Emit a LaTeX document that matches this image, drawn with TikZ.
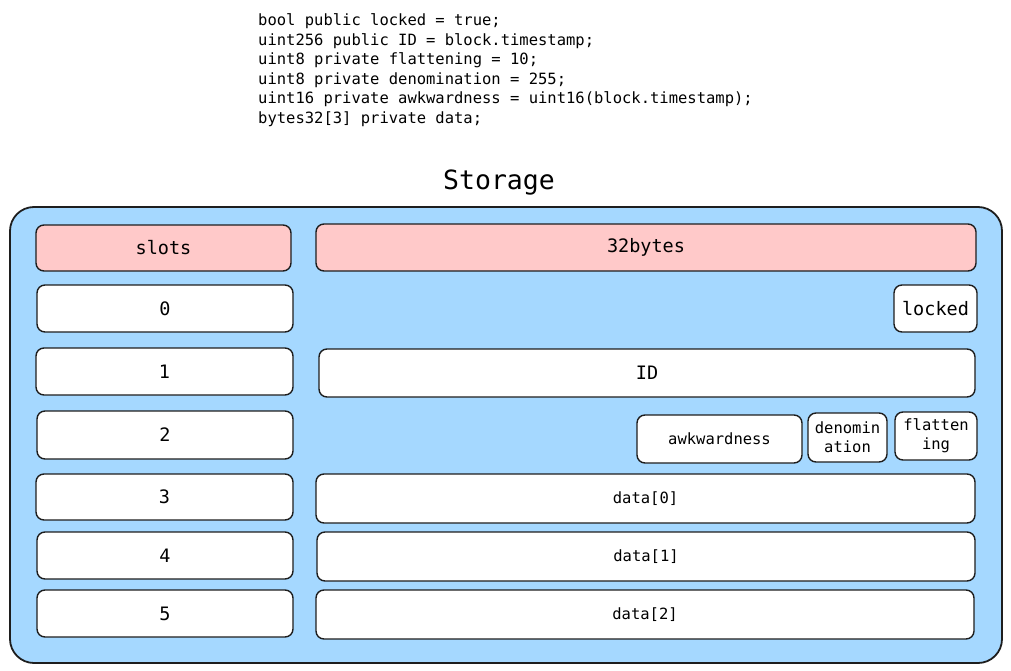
\documentclass[tikz,border=0pt]{standalone}
\usepackage{fontspec}
\setmonofont{DejaVu Sans Mono}
\usepackage{tikz}
\usetikzlibrary{positioning}

\definecolor{bgblue}{HTML}{A5D8FF}
\definecolor{headpink}{HTML}{FFC9C9}
\definecolor{inkdark}{HTML}{1E1E1E}

\tikzset{
    cell/.style={draw=inkdark, line width=1.4pt, rounded corners=8pt, fill=white, inner sep=0pt, font=\ttfamily\fontsize{18.5}{20}\selectfont},
    headcell/.style={cell, fill=headpink},
    smallcell/.style={cell, font=\ttfamily\fontsize{15.5}{19}\selectfont, align=center}
}

\begin{document}
\begin{tikzpicture}[x=1pt, y=-1pt]
    \useasboundingbox (0,0) rectangle (1011,671);

    % code
    \node (code) [anchor=north west, inner sep=0pt, align=left, font=\ttfamily\fontsize{15.5}{19.5}\selectfont] at (258,13.5)
        {bool public locked = true;\\
         uint256 public ID = block.timestamp;\\
         uint8 private flattening = 10;\\
         uint8 private denomination = 255;\\
         uint16 private awkwardness = uint16(block.timestamp);\\
         bytes32[3] private data;};

    \node (title) [font=\ttfamily\fontsize{26.5}{30}\selectfont] at (499,182.5) {Storage};

    % storage frame
    \draw[draw=inkdark, line width=1.8pt, fill=bgblue, rounded corners=24pt] (10,207) rectangle (1002,663);

    % header
    \node (slots) [headcell, minimum width=255pt, minimum height=46pt] at (163.5,248) {slots};
    \node (bytes) [headcell, minimum width=660pt, minimum height=47pt] at (646,247.5) {32bytes};

    % slot numbers
    \node (s0) [cell, minimum width=256pt, minimum height=47pt] at (165,308.5) {0};
    \node (s1) [cell, minimum width=257pt, minimum height=47pt] at (164.5,371.5) {1};
    \node (s2) [cell, minimum width=256pt, minimum height=48pt] at (165,435) {2};
    \node (s3) [cell, minimum width=257pt, minimum height=46pt] at (164.5,497) {3};
    \node (s4) [cell, minimum width=256pt, minimum height=47pt] at (165,555.5) {4};
    \node (s5) [cell, minimum width=256pt, minimum height=47pt] at (165,613.5) {5};

    % slot contents
    \node (locked) [cell, minimum width=83pt, minimum height=47pt] at (935.5,308.5) {locked};
    \node (id) [cell, minimum width=656pt, minimum height=48pt] at (647,373) {ID};
    \node (flat) [smallcell, minimum width=82pt, minimum height=48pt] at (936,436) {flatten\\ing};
    \node (denom) [smallcell, minimum width=79pt, minimum height=49pt] at (847.5,437.5) {denomin\\ation};
    \node (awk) [smallcell, minimum width=165pt, minimum height=48pt] at (719.5,439) {awkwardness};
    \node (d0) [smallcell, minimum width=659pt, minimum height=49pt] at (645.5,498.5) {data[0]};
    \node (d1) [smallcell, minimum width=658pt, minimum height=49pt] at (646,556.5) {data[1]};
    \node (d2) [smallcell, minimum width=658pt, minimum height=49pt] at (645,614.5) {data[2]};
\end{tikzpicture}
\end{document}
